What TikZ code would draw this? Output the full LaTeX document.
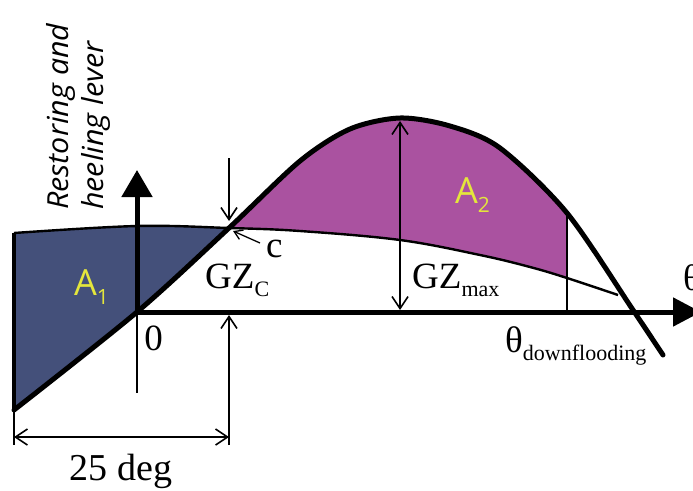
\documentclass[tikz,border=0pt]{standalone}
\usepackage{fontspec}
\setmainfont{Liberation Serif}
\newfontfamily\osans{Open Sans}
\newfontfamily\osanst[FakeStretch=1.05]{Open Sans}
\usetikzlibrary{arrows.meta}
\definecolor{aonecol}{RGB}{68,80,122}
\definecolor{atwocol}{RGB}{170,82,160}
\definecolor{labyel}{RGB}{228,230,60}
\newcommand\lsub[2]{\raisebox{-#2pt}{\fontsize{22}{22}\selectfont #1}}
\begin{document}
\begin{tikzpicture}[x=1pt,y=-1pt,
  gzline/.style={line width=5pt,line join=round,line cap=round},
  heelline/.style={line width=2.4pt},
  thinl/.style={line width=1.3pt},
  barb/.style={line width=1.6pt,-{Straight Barb[length=12pt,width=16pt]}},
  dbarb/.style={line width=1.6pt,{Straight Barb[length=12pt,width=16pt]}-{Straight Barb[length=12pt,width=16pt]}},
  smallbarb/.style={line width=1.3pt,-{Straight Barb[length=8pt,width=10pt]}},
  axisline/.style={line width=5pt},
  serif/.style={inner sep=0pt,font=\fontsize{37}{37}\selectfont},
  alabel/.style={inner sep=0pt,text=labyel,font=\osans\fontsize{36}{36}\selectfont}]
\useasboundingbox (0,0) rectangle (693,490);
% named points
\coordinate (O) at (137,312);
\coordinate (C) at (229,228);
\coordinate (Ytop) at (137,170);
\coordinate (Xend) at (701,312);
\coordinate (Ybot) at (137,393);
\coordinate (GZs) at (14,410);
\coordinate (H0) at (14,233);
\coordinate (L0) at (14,445);
\coordinate (Cdim) at (229,445);
\coordinate (Cax) at (229,315);
\coordinate (Ctop) at (229,158);
\coordinate (Ctip) at (229,221);
\coordinate (DimL) at (14,437);
\coordinate (DimR) at (229,437);
\coordinate (Ptop) at (400,121);
\coordinate (Pbot) at (400,310);
\coordinate (Dtop) at (567,212);
\coordinate (Dbot) at (567,312);
\coordinate (ctail) at (260,243);
\coordinate (chead) at (233,231);
% A1 fill
\begin{scope}
  \clip plot[smooth] coordinates {(14,410) (137,312) (229,228) (300,161) (350,129) (400,118) (450,126) (500,148) (567,213) (633,310) (663,355)} -- (663,0) -- (14,0) -- cycle;
  \clip plot[smooth,tension=0.6] coordinates {(14,233) (137,226) (229,228) (300,231) (400,240) (480,255) (530,267) (567,278) (618,295)} -- (618,490) -- (14,490) -- cycle;
  \fill[aonecol] (14,0) rectangle (300,490);
\end{scope}
% A2 fill
\begin{scope}
  \clip plot[smooth] coordinates {(14,410) (137,312) (229,228) (300,161) (350,129) (400,118) (450,126) (500,148) (567,213) (633,310) (663,355)} -- (663,490) -- (14,490) -- cycle;
  \clip plot[smooth,tension=0.6] coordinates {(14,233) (137,226) (229,228) (300,231) (400,240) (480,255) (530,267) (567,278) (618,295)} -- (618,0) -- (14,0) -- cycle;
  \fill[atwocol] (200,0) rectangle (567,490);
\end{scope}
% heeling lever curve
\draw[heelline] plot[smooth,tension=0.6] coordinates {(14,233) (137,226) (229,228) (300,231) (400,240) (480,255) (530,267) (567,278) (618,295)};
% thin lines
\draw[thinl] (Dtop) -- (Dbot);
\draw[thinl] (O) -- (Ybot);
\draw[thinl] (GZs) -- (L0);
\draw[line width=4pt] (H0) -- (GZs);
% axes
\draw[axisline,-{Triangle[length=27pt,width=30pt]}] (O) -- (Ytop);
\draw[axisline,-{Triangle[length=28pt,width=28pt]}] (O) -- (Xend);
% GZ curve
\draw[gzline] plot[smooth] coordinates {(14,410) (137,312) (229,228) (300,161) (350,129) (400,118) (450,126) (500,148) (567,213) (633,310) (663,355)};
% arrows
\draw[barb] (Ctop) -- (Ctip);
\draw[barb] (Cdim) -- (Cax);
\draw[dbarb] (DimL) -- (DimR);
\draw[dbarb] (Ptop) -- (Pbot);
\draw[smallbarb] (ctail) -- (chead);
% labels
\node[rotate=90,anchor=south west,inner sep=0pt,align=left,
      font=\osanst\itshape\fontsize{29}{35}\selectfont] (ylab) at (111,210) {Restoring and\\heeling lever};
\node[alabel,anchor=base west] (aone) at (74,295) {A\raisebox{-9pt}{\fontsize{21}{21}\selectfont 1}};
\node[alabel,anchor=base west] (atwo) at (455,203) {A\raisebox{-9pt}{\fontsize{21}{21}\selectfont 2}};
\node[serif,anchor=base west] (gzc) at (205,288) {GZ\lsub{C}{8}};
\node[serif,anchor=base west] (gzmax) at (412,288) {GZ\lsub{max}{8}};
\node[serif,anchor=base west] (clab) at (266,257) {c};
\node[serif,anchor=base] (zero) at (153.5,350) {0};
\node[serif,anchor=base west] (thx) at (683,290) {θ};
\node[serif,anchor=base west] (thd) at (505,352) {θ\lsub{downflooding}{8}};
\node[serif,anchor=base,font=\fontsize{38}{38}\selectfont] (deg) at (121,480) {25 deg};
\end{tikzpicture}
\end{document}
